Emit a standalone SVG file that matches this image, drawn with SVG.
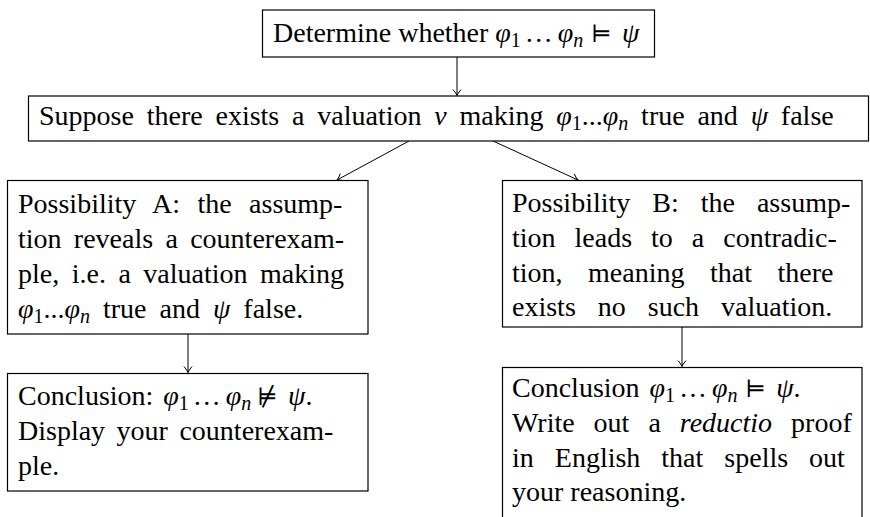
<svg xmlns="http://www.w3.org/2000/svg" width="870" height="517" viewBox="0 0 870 517">
<style>
.box{fill:#fff;stroke:#000;stroke-width:1.2}
.t{font-family:"Liberation Serif","Times New Roman",serif;font-size:28px;fill:#000}
.m{font-style:italic}
.s{font-size:20px}
.rel{font-family:"DejaVu Serif","DejaVu Sans",serif;font-size:24px}
.c{fill:none;stroke:#000;stroke-width:1}
</style>
<defs>
<marker id="ah" markerUnits="userSpaceOnUse" markerWidth="12" markerHeight="12" viewBox="-7 -6 8 12" refX="0" refY="0" orient="auto">
<path d="M-6,-4 Q-2,-0.6 0,0 Q-2,0.6 -6,4" fill="none" stroke="#000" stroke-width="1"/>
</marker>
</defs>
<g id="connectors">
<path class="c" d="M457,57 V95.5" marker-end="url(#ah)"/>
<path class="c" d="M409,141 L337,180" marker-end="url(#ah)"/>
<path class="c" d="M493,141 L578,180" marker-end="url(#ah)"/>
<path class="c" d="M188,334 V372.5" marker-end="url(#ah)"/>
<path class="c" d="M682,327 V366.5" marker-end="url(#ah)"/>
</g>
<g id="n-top">
<rect class="box" x="262.5" y="10" width="392" height="47"/>
<text class="t" x="273" y="42">Determine whether <tspan class="m">φ</tspan><tspan class="s" dy="5">1</tspan><tspan dy="-5" dx="4">…</tspan><tspan class="m" dx="5">φ</tspan><tspan class="s m" dy="5">n</tspan><tspan dy="-5" dx="8" class="rel">⊨</tspan><tspan class="m" dx="10">ψ</tspan></text>
</g>
<g id="n-suppose">
<rect class="box" x="28.5" y="96" width="840" height="45"/>
<text class="t" x="39" y="125" word-spacing="5.8">Suppose there exists a valuation <tspan class="m">v</tspan> making <tspan class="m">φ</tspan><tspan class="s" dy="5">1</tspan><tspan dy="-5">...</tspan><tspan class="m">φ</tspan><tspan class="s m" dy="5">n</tspan><tspan dy="-5"> true and </tspan><tspan class="m">ψ</tspan> false</text>
</g>
<g id="n-a">
<rect class="box" x="7.5" y="180.5" width="360.5" height="153.5"/>
<text class="t" x="18" y="213" word-spacing="10.4">Possibility A: the assump-</text>
<text class="t" x="18" y="248" word-spacing="5.3">tion reveals a counterexam-</text>
<text class="t" x="18" y="283" word-spacing="5.5">ple, i.e. a valuation making</text>
<text class="t" x="18" y="318" word-spacing="6"><tspan class="m">φ</tspan><tspan class="s" dy="5">1</tspan><tspan dy="-5">...</tspan><tspan class="m">φ</tspan><tspan class="s m" dy="5">n</tspan><tspan dy="-5"> true and </tspan><tspan class="m">ψ</tspan> false.</text>
</g>
<g id="n-b">
<rect class="box" x="502.5" y="180.5" width="359.5" height="146.5"/>
<text class="t" x="512" y="212" word-spacing="15">Possibility B: the assump-</text>
<text class="t" x="512" y="247" word-spacing="12">tion leads to a contradic-</text>
<text class="t" x="512" y="282" word-spacing="18.5">tion, meaning that there</text>
<text class="t" x="512" y="316" word-spacing="15">exists no such valuation.</text>
</g>
<g id="n-c">
<rect class="box" x="7.5" y="373.5" width="360.5" height="117.5"/>
<text class="t" x="18" y="405" word-spacing="3">Conclusion: <tspan class="m">φ</tspan><tspan class="s" dy="5">1</tspan><tspan dy="-5" dx="4">…</tspan><tspan class="m" dx="5">φ</tspan><tspan class="s m" dy="5">n</tspan><tspan dy="-5" dx="6" class="rel">⊭</tspan><tspan class="m" dx="10">ψ</tspan>.</text>
<text class="t" x="18" y="440" word-spacing="4.5">Display your counterexam-</text>
<text class="t" x="18" y="475">ple.</text>
</g>
<g id="n-d">
<rect class="box" x="502.5" y="367.5" width="359.5" height="170"/>
<text class="t" x="512" y="397" word-spacing="3">Conclusion <tspan class="m">φ</tspan><tspan class="s" dy="5">1</tspan><tspan dy="-5" dx="4">…</tspan><tspan class="m" dx="5">φ</tspan><tspan class="s m" dy="5">n</tspan><tspan dy="-5" dx="8" class="rel">⊨</tspan><tspan class="m" dx="10">ψ</tspan>.</text>
<text class="t" x="512" y="432" word-spacing="12">Write out a <tspan class="m">reductio</tspan> proof</text>
<text class="t" x="512" y="467" word-spacing="14">in English that spells out</text>
<text class="t" x="512" y="501">your reasoning.</text>
</g>
</svg>
